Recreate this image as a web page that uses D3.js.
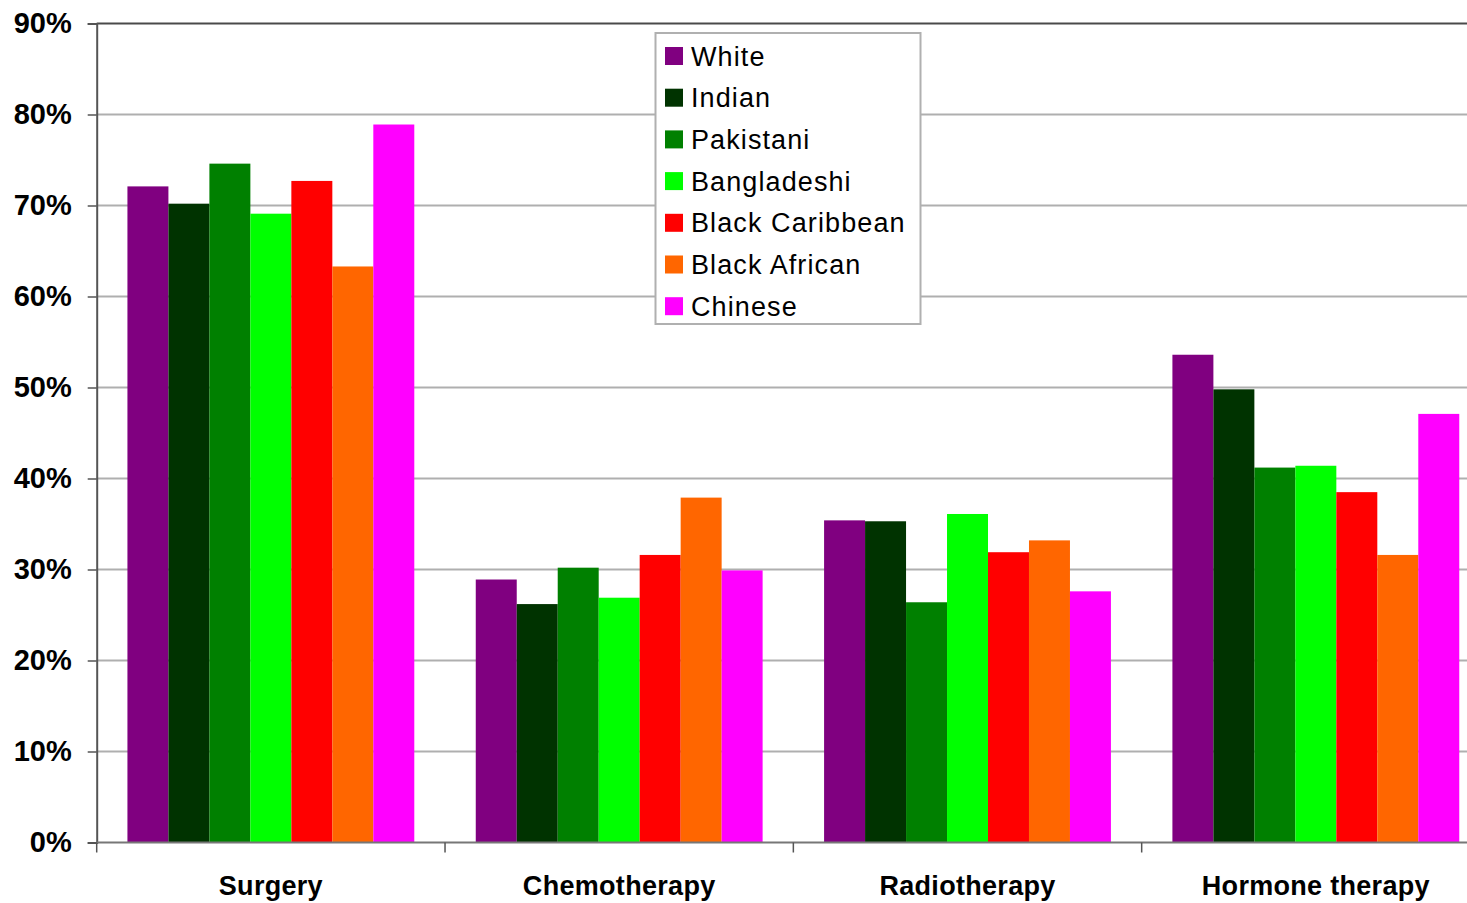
<!DOCTYPE html>
<html>
<head>
<meta charset="utf-8">
<script src="https://cdn.jsdelivr.net/npm/d3@7"></script>
<style>
  html, body { margin: 0; padding: 0; background: #fff; }
  svg { display: block; }
  text { font-family: "Liberation Sans", Arial, sans-serif; fill: #000; }
</style>
</head>
<body>
<svg id="chart" width="1467" height="903"></svg>
<script>
// Treatment categories along the x axis
const treatments = ["Surgery", "Chemotherapy", "Radiotherapy", "Hormone therapy"];

// Ethnic groups (one bar per group within each treatment)
const groups = ["White", "Indian", "Pakistani", "Bangladeshi", "Black Caribbean", "Black African", "Chinese"];
const groupColors = ["#800080", "#003300", "#008000", "#00ff00", "#ff0000", "#ff6600", "#ff00ff"];

// Percentage receiving each treatment, per group (order follows `groups`)
const surgery      = [72.1, 70.2, 74.6, 69.1, 72.7, 63.3, 78.9];
const chemotherapy = [28.9, 26.2, 30.2, 26.9, 31.6, 37.9, 29.9];
const radiotherapy = [35.4, 35.3, 26.4, 36.1, 31.9, 33.2, 27.6];
const hormone      = [53.6, 49.8, 41.2, 41.4, 38.5, 31.6, 47.1];

const yTicks = [0, 10, 20, 30, 40, 50, 60, 70, 80, 90];

const seriesByTreatment = [surgery, chemotherapy, radiotherapy, hormone];

const svg = d3.select("#chart");
const plotLeft = 96.7, plotTop = 23.5, plotBottom = 842.5, plotRight = 1490;

const x = d3.scaleBand().domain(treatments).range([plotLeft, plotRight]).padding(0);
const barW = x.bandwidth() / (groups.length + 1.5);
const xInner = d3.scaleBand().domain(groups)
  .range([barW * 0.75, x.bandwidth() - barW * 0.75]).padding(0);
const y = d3.scaleLinear().domain([0, 90]).range([plotBottom, plotTop]);

// Horizontal gridlines
svg.append("g").selectAll("line")
  .data(yTicks.filter(d => d > 0 && d < 90))
  .join("line")
  .attr("x1", plotLeft).attr("x2", 1467)
  .attr("y1", d => y(d)).attr("y2", d => y(d))
  .attr("stroke", "#afafaf").attr("stroke-width", 2);

// Top border of the plot area
svg.append("line")
  .attr("x1", plotLeft).attr("x2", 1467)
  .attr("y1", y(90)).attr("y2", y(90))
  .attr("stroke", "#4a4a4a").attr("stroke-width", 2);

// Bars
const rows = [];
treatments.forEach((t, i) => {
  groups.forEach((g, j) => rows.push({ t, g, v: seriesByTreatment[i][j], c: groupColors[j] }));
});
svg.append("g").selectAll("rect")
  .data(rows)
  .join("rect")
  .attr("x", d => x(d.t) + xInner(d.g))
  .attr("width", xInner.bandwidth())
  .attr("y", d => y(d.v))
  .attr("height", d => y(0) - y(d.v))
  .attr("fill", d => d.c);

// Y axis
const yAxis = svg.append("g")
  .attr("transform", `translate(${plotLeft},0)`)
  .call(d3.axisLeft(y).tickValues(yTicks).tickFormat(d => d + "%").tickSize(9).tickPadding(16));
yAxis.select(".domain").attr("stroke", "#555").attr("stroke-width", 2);
yAxis.selectAll(".tick line").attr("stroke", "#555").attr("stroke-width", 1.5);
yAxis.selectAll(".tick text")
  .attr("font-size", 29).attr("font-weight", "bold")
  .attr("font-family", "'Liberation Sans', Arial, sans-serif")
  .attr("fill", "#000");

// X axis: baseline with ticks between categories
svg.append("line")
  .attr("x1", plotLeft).attr("x2", 1467)
  .attr("y1", plotBottom).attr("y2", plotBottom)
  .attr("stroke", "#777").attr("stroke-width", 2);
svg.append("g").selectAll("line")
  .data(treatments)
  .join("line")
  .attr("x1", d => x(d)).attr("x2", d => x(d))
  .attr("y1", plotBottom).attr("y2", plotBottom + 10)
  .attr("stroke", "#555").attr("stroke-width", 1.5);
svg.append("g").selectAll("text")
  .data(treatments)
  .join("text")
  .attr("x", d => x(d) + x.bandwidth() / 2)
  .attr("y", 895)
  .attr("text-anchor", "middle")
  .attr("font-size", 27).attr("font-weight", "bold")
  .attr("letter-spacing", 0.3)
  .text(d => d);

// Legend
const lg = svg.append("g");
lg.append("rect")
  .attr("x", 655.5).attr("y", 33).attr("width", 265).attr("height", 291)
  .attr("fill", "#fff").attr("stroke", "#b0b0b0").attr("stroke-width", 2);
const item = lg.selectAll("g.item")
  .data(groups)
  .join("g")
  .attr("class", "item")
  .attr("transform", (d, i) => `translate(0,${56 + i * 41.7})`);
item.append("rect")
  .attr("x", 665).attr("y", -9).attr("width", 18).attr("height", 18)
  .attr("fill", (d, i) => groupColors[i]);
item.append("text")
  .attr("x", 691).attr("y", 9.5)
  .attr("font-size", 27)
  .attr("letter-spacing", 1.1)
  .attr("fill", "#111")
  .text(d => d);
</script>
</body>
</html>
